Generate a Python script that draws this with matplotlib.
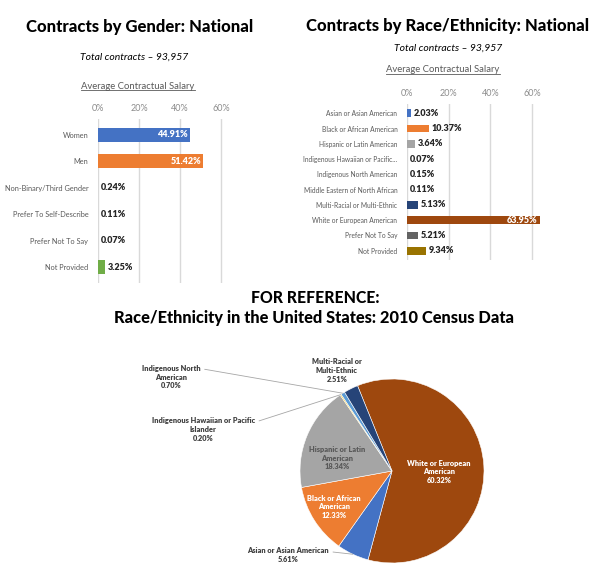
import numpy as np
import matplotlib
matplotlib.use("Agg")
import matplotlib.pyplot as plt
from matplotlib.lines import Line2D

plt.rcParams['font.family'] = ['Lato', 'DejaVu Sans']

W, H = 600, 578

# ---- data ----
gender_labels = ["Women", "Men", "Non-Binary/Third Gender", "Prefer To Self-Describe",
                 "Prefer Not To Say", "Not Provided"]
gender_values = [44.91, 51.42, 0.24, 0.11, 0.07, 3.25]
gender_colors = ["#4472C4", "#ED7D31", "#A5A5A5", "#FFC000", "#5B9BD5", "#70AD47"]

race_labels = ["Asian or Asian American", "Black or African American", "Hispanic or Latin American",
               "Indigenous Hawaiian or Pacific...", "Indigenous North American",
               "Middle Eastern of North African", "Multi-Racial or Multi-Ethnic",
               "White or European American", "Prefer Not To Say", "Not Provided"]
race_values = [2.03, 10.37, 3.64, 0.07, 0.15, 0.11, 5.13, 63.95, 5.21, 9.34]
race_colors = ["#4472C4", "#ED7D31", "#A5A5A5", "#FFC000", "#5B9BD5", "#70AD47",
               "#264478", "#9E480E", "#636363", "#997300"]

xticks = [0, 20, 40, 60]

census_labels = ["White or European\nAmerican", "Asian or Asian American", "Black or African\nAmerican",
                 "Hispanic or Latin\nAmerican", "Indigenous Hawaiian or Pacific\nIslander",
                 "Indigenous North\nAmerican", "Multi-Racial or\nMulti-Ethnic"]
census_values = [60.32, 5.61, 12.33, 18.34, 0.20, 0.70, 2.51]
census_colors = ["#9E480E", "#4472C4", "#ED7D31", "#A5A5A5", "#FFC000", "#5B9BD5", "#264478"]

GRAY = "#595959"
DARK = "#262626"
XMAX = 66


def box(left, top, right, bottom):
    return [left / W, 1 - bottom / H, (right - left) / W, (bottom - top) / H]


def bar_panel(ax, labels, values, colors, height, lab_size, inside_min):
    y = np.arange(len(values))
    ax.barh(y, values, height=height, color=colors, zorder=3)
    ax.set_xlim(0, XMAX)
    ax.set_ylim(len(values) - 1 + 0.62, -0.62)
    ax.set_xticks(xticks)
    ax.set_xticklabels([f"{t}%" for t in xticks], fontsize=6.5, color="#8C8C8C")
    ax.xaxis.tick_top()
    ax.tick_params(axis='x', length=0, pad=4)
    ax.set_yticks(y)
    ax.set_yticklabels(labels, fontsize=lab_size, color=GRAY)
    ax.tick_params(axis='y', length=0, pad=7)
    ax.grid(axis='x', color="#D9D9D9", lw=1, zorder=0)
    for s in ax.spines.values():
        s.set_visible(False)
    for yi, v in zip(y, values):
        if v > inside_min:
            ax.text(v - 1.2, yi, f"{v:.2f}%", ha='right', va='center', fontsize=6.5,
                    fontweight='heavy', color='white', zorder=4)
        else:
            ax.text(v + 1.3, yi, f"{v:.2f}%", ha='left', va='center', fontsize=6.5,
                    fontweight='heavy', color=DARK, zorder=4)


fig = plt.figure(figsize=(W / 100, H / 100), dpi=100)

# ---- gender panel ----
axg = fig.add_axes(box(98, 118.6, 98 + 123 * XMAX / 60, 283.4))
bar_panel(axg, gender_labels, gender_values, gender_colors, 0.53, 5.3, 30)

# ---- race panel ----
axr = fig.add_axes(box(407, 103.8, 407 + 125 * XMAX / 60, 260.2))
bar_panel(axr, race_labels, race_values, race_colors, 0.5, 4.8, 30)

# ---- headings ----
fig.text(140 / W, 1 - 27 / H, "Contracts by Gender: National", ha='center', va='center',
         fontsize=12, fontweight='black', color='black')
fig.text(448 / W, 1 - 26 / H, "Contracts by Race/Ethnicity: National", ha='center', va='center',
         fontsize=12, fontweight='black', color='black')
fig.text(134 / W, 1 - 57 / H, "Total contracts – 93,957", ha='center', va='center',
         fontsize=7.5, style='italic', color='black')
fig.text(448 / W, 1 - 48 / H, "Total contracts – 93,957", ha='center', va='center',
         fontsize=7.5, style='italic', color='black')
sub1 = fig.text(138 / W, 1 - 86 / H, "Average Contractual Salary", ha='center', va='center',
                fontsize=6.8, color=GRAY)
sub2 = fig.text(443 / W, 1 - 70 / H, "Average Contractual Salary", ha='center', va='center',
                fontsize=6.8, color=GRAY)
fig.text(315 / W, 1 - 298 / H, "FOR REFERENCE:", ha='center', va='center',
         fontsize=11.3, fontweight='black', color='black')
fig.text(314 / W, 1 - 318 / H, "Race/Ethnicity in the United States: 2010 Census Data",
         ha='center', va='center', fontsize=11.8, fontweight='black', color='black')

# ---- census pie ----
cx, cy, R = 392, 471, 92
axp = fig.add_axes(box(cx - 2 * R, cy - 2 * R, cx + 2 * R, cy + 2 * R))
wedges, _ = axp.pie(census_values, colors=census_colors, startangle=112, counterclock=False,
                    radius=1, wedgeprops=dict(edgecolor='white', linewidth=0.4))
axp.set_xlim(-2, 2)
axp.set_ylim(-2, 2)
axp.set_aspect('equal')
axp.axis('off')

# label spots in pie-radius units
inner = {0: ((0.51, -0.01), 'white'), 2: ((-0.63, -0.39), 'white'), 3: ((-0.6, 0.14), GRAY)}
outer = {1: (-1.13, -0.91), 4: (-2.05, 0.45), 5: (-2.4, 1.02), 6: (-0.6, 1.09)}
PSIZE = 5.3
for i, (w, lab, v) in enumerate(zip(wedges, census_labels, census_values)):
    mid = np.radians((w.theta1 + w.theta2) / 2)
    txt = f"{lab}\n{v:.2f}%"
    if i in inner:
        (tx, ty), col = inner[i]
        axp.text(tx, ty, txt, ha='center', va='center',
                 fontsize=PSIZE, fontweight='heavy', color=col, linespacing=1.3)
    else:
        tx, ty = outer[i]
        if i == 6:
            axp.text(tx, ty, txt, ha='center', va='center', fontsize=PSIZE, fontweight='heavy',
                     color="#404040", linespacing=1.3)
            continue
        rel = {1: (1.0, 0.7), 4: (1.0, 0.8), 5: (1.0, 0.85)}[i]
        axp.annotate(txt, xy=(np.cos(mid), np.sin(mid)), xytext=(tx, ty),
                     ha='center', va='center', fontsize=PSIZE, fontweight='heavy', color="#404040",
                     linespacing=1.3, annotation_clip=False,
                     arrowprops=dict(arrowstyle='-', color="#A6A6A6", lw=0.6,
                                     relpos=rel, shrinkA=1, shrinkB=0))

# underline the subtitles
fig.canvas.draw()
rend = fig.canvas.get_renderer()
for t in (sub1, sub2):
    bb = t.get_window_extent(rend).transformed(fig.transFigure.inverted())
    fig.add_artist(Line2D([bb.x0, bb.x1], [bb.y0 + 0.001, bb.y0 + 0.001], color=GRAY, lw=0.6,
                          transform=fig.transFigure))

fig.savefig("out.png", dpi=100, facecolor='white')
